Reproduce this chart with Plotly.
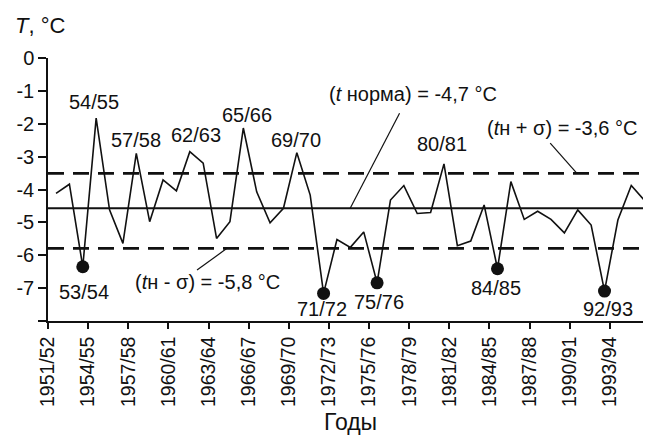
import plotly.graph_objects as go

# Winter seasons (start year) and mean temperatures
start_years = list(range(1951, 1996))
temps = [-4.12, -3.84, -6.35, -1.83, -4.62, -5.64, -2.90, -4.98, -3.71, -4.04,
         -2.85, -3.20, -5.49, -4.98, -2.13, -4.07, -5.01, -4.57, -2.88, -4.17,
         -7.16, -5.52, -5.76, -5.29, -6.84, -4.32, -3.88, -4.73, -4.70, -3.22,
         -5.71, -5.57, -4.47, -6.41, -3.76, -4.91, -4.66, -4.91, -5.32, -4.62,
         -5.08, -7.09, -4.93, -3.88, -4.34]

# Highlighted cold winters
cold_years = [1953, 1971, 1975, 1984, 1992]

# Reference levels (as drawn)
norm_level = -4.57
plus_sigma = -3.51
minus_sigma = -5.79

tick_years = list(range(1951, 1997, 3))
tick_labels = ["1951/52", "1954/55", "1957/58", "1960/61", "1963/64", "1966/67",
               "1969/70", "1972/73", "1975/76", "1978/79", "1981/82", "1984/85",
               "1987/88", "1990/91", "1993/94", ""]
y_ticks = [0, -1, -2, -3, -4, -5, -6, -7, -8]
y_labels = ["0", "-1", "-2", "-3", "-4", "-5", "-6", "-7", ""]

OFFSET = 0.6  # values are plotted mid-season
xs = [y + OFFSET for y in start_years]
cold_x = [y + OFFSET for y in cold_years]
cold_t = [temps[start_years.index(y)] for y in cold_years]

FONT = "Arial, Liberation Sans, sans-serif"
fig = go.Figure()

fig.add_trace(go.Scatter(x=xs, y=temps, mode="lines",
                         line=dict(color="#111", width=1.6), showlegend=False,
                         cliponaxis=False))
fig.add_trace(go.Scatter(x=cold_x, y=cold_t, mode="markers",
                         marker=dict(color="#111", size=13), showlegend=False))

x0, x1 = 1951, 1996
fig.add_shape(type="line", x0=x0, x1=x1, y0=norm_level, y1=norm_level,
              line=dict(color="#111", width=2))
for lv in (plus_sigma, minus_sigma):
    fig.add_shape(type="line", x0=x0, x1=x1, y0=lv, y1=lv,
                  line=dict(color="#111", width=2.6, dash="16px,9px"))

# leader lines
leaders = [((1977.28, -1.68), (1973.59, norm_level)),
           ((1988.54, -2.59), (1990.54, plus_sigma)),
           ((1962.14, -6.45), (1964.38, minus_sigma))]
for (a, b) in leaders:
    fig.add_shape(type="line", x0=a[0], y0=a[1], x1=b[0], y1=b[1],
                  line=dict(color="#111", width=1.2))

labels = [("54/55", 1954.46, -1.33), ("53/54", 1953.71, -7.12),
          ("57/58", 1957.6, -2.49), ("62/63", 1962.08, -2.34),
          ("65/66", 1965.89, -1.73), ("69/70", 1969.56, -2.49),
          ("71/72", 1971.5, -7.64), ("75/76", 1975.76, -7.42),
          ("80/81", 1980.45, -2.61), ("84/85", 1984.51, -7.0),
          ("92/93", 1992.84, -7.64),
          ("(<i>t</i> норма) = -4,7 °C", 1978.3, -1.09),
          ("(<i>t</i>н + σ) = -3,6 °C", 1989.42, -2.13),
          ("(<i>t</i>н - σ) = -5,8 °C", 1962.94, -6.80)]
for txt, x, y in labels:
    fig.add_annotation(x=x, y=y, text=txt, showarrow=False,
                       xanchor="center", yanchor="middle",
                       font=dict(family=FONT, size=20, color="#111"))

fig.add_annotation(xref="paper", yref="paper", x=-0.013, y=1.123,
                   xanchor="center", yanchor="middle",
                   text="<i>T</i>, °C", showarrow=False,
                   font=dict(family=FONT, size=22, color="#111"))
fig.add_annotation(xref="paper", yref="paper", x=0.502, y=-0.385,
                   xanchor="center", yanchor="middle",
                   text="Годы", showarrow=False,
                   font=dict(family=FONT, size=23, color="#111"))

fig.update_xaxes(range=[x0, x1], tickvals=tick_years, ticktext=tick_labels,
                 tickangle=-90, ticks="outside", ticklen=6, tickwidth=1.5,
                 tickcolor="#111", showline=True, linecolor="#111", linewidth=1.5,
                 showgrid=False, zeroline=False, automargin=False,
                 tickfont=dict(family=FONT, size=19.5, color="#111"))
fig.update_yaxes(range=[-8, 0], tickvals=y_ticks, ticktext=y_labels,
                 ticks="outside", ticklen=8, tickwidth=1.5, tickcolor="#111",
                 showline=True, linecolor="#111", linewidth=1.5,
                 showgrid=False, zeroline=False, automargin=False,
                 tickfont=dict(family=FONT, size=20, color="#111"))

# page body has an 8px default margin, so the figure is shrunk to compensate
fig.update_layout(width=643, height=430, margin=dict(l=40, r=1, t=50, b=117),
                  plot_bgcolor="white", paper_bgcolor="white")

fig.write_html("out.html")
